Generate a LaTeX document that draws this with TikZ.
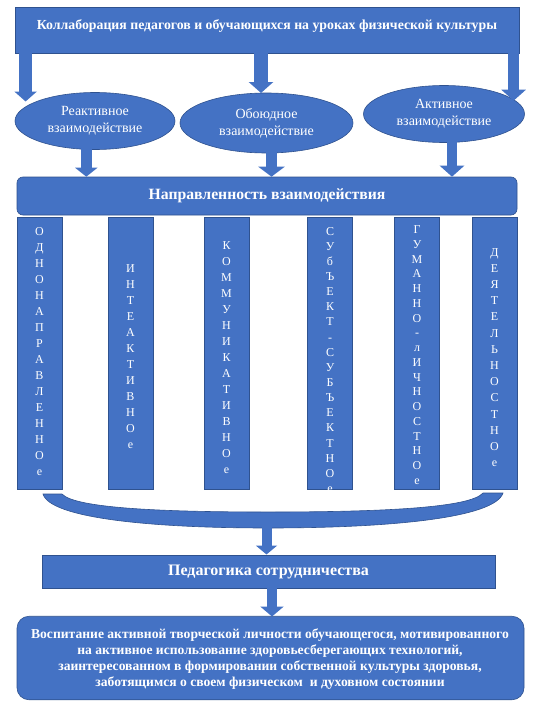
\documentclass[tikz,border=0pt]{standalone}
\usepackage{fontspec}
\setmainfont{Liberation Serif}
\usetikzlibrary{shapes.geometric,arrows.meta}
\definecolor{blu}{HTML}{4472C4}
\definecolor{edg}{HTML}{2F528F}
\begin{document}
\begin{tikzpicture}[x=1pt,y=-1pt,
 box/.style={fill=blu, draw=edg, line width=0.6pt, inner sep=0pt},
 txt/.style={text=white, font=\bfseries\fontsize{13.6}{15.9}\selectfont, align=center, inner sep=0pt},
 ell/.style={ellipse, fill=blu, draw=edg, line width=0.6pt, inner sep=0pt, text=white, align=center, font=\fontsize{14}{17}\selectfont},
 col/.style={box, minimum width=45pt, minimum height=272pt, anchor=north},
 letter/.style={text=white, font=\fontsize{12}{12}\selectfont, anchor=base, inner sep=0pt},
 barr/.style n args={3}{draw=blu, line width=#1, -{Triangle[width=#2,length=#3]}}
]
\useasboundingbox (0,0) rectangle (535,707);
\fill[white] (0,0) rectangle (535,707);

% top box
\node[box, minimum width=504pt, minimum height=45.5pt] (top) at (267,30.25) {};
\node[txt, font=\bfseries\fontsize{13.8}{16}\selectfont] (toptxt) at (267,25.6) {Коллаборация педагогов и обучающихся на уроках физической культуры};

% ellipses
\node[ell, minimum width=160pt, minimum height=57pt] (e1) at (95,121) {Реактивное\\взаимодействие};
\node[ell, minimum width=173pt, minimum height=60pt] (e2) at (266.5,123) {Обоюдное\\взаимодействие};
\node[ell, minimum width=161pt, minimum height=57pt] (e3) at (444,114) {Активное\\взаимодействие};

% direction box
\node[box, rounded corners=6pt, minimum width=500pt, minimum height=38pt, txt, font=\bfseries\fontsize{15.7}{17}\selectfont] (dir) at (267,196) {Направленность взаимодействия};

% columns
\node[col] (c1) at (39.5,217) {};
\node[col] (c2) at (130.5,217) {};
\node[col] (c3) at (226.5,217) {};
\node[col] (c4) at (330,217) {};
\node[col] (c5) at (417,216.5) {};
\node[col] (c6) at (494.5,216.5) {};

\foreach \ch [count=\i from 0] in {О,Д,Н,О,Н,А,П,Р,А,В,Л,Е,Н,Н,О,е}
  \node[letter] (la\i) at (39.5,{231+16*\i+4}) {\ch};
\foreach \ch [count=\i from 0] in {И,Н,Т,Е,А,К,Т,И,В,Н,О,е}
  \node[letter] (lb\i) at (130.5,{268+16*\i+4}) {\ch};
\foreach \ch [count=\i from 0] in {К,О,М,М,У,Н,И,К,А,Т,И,В,Н,О,е}
  \node[letter] (lc\i) at (226.5,{245+16*\i+4}) {\ch};
\begin{scope}
\clip (c4.south west) rectangle (c4.north east);
\foreach \ch [count=\i from 0] in {С,У,б,Ъ,Е,К,Т,-,С,У,Б,Ъ,Е,К,Т,Н,О,е}
  \node[letter] (ld\i) at (330,{231+15.15*\i+4}) {\ch};
\end{scope}
\foreach \ch [count=\i from 0] in {Г,У,М,А,Н,Н,О,-,л,И,Ч,Н,О,С,Т,Н,О,е}
  \node[letter] (le\i) at (417,{229.5+14.75*\i+4}) {\ch};
\foreach \ch [count=\i from 0] in {Д,Е,Я,Т,Е,Л,Ь,Н,О,С,Т,Н,О,е}
  \node[letter] (lf\i) at (494.5,{252+16.2*\i+4}) {\ch};

% crescent
\fill[blu, draw=edg, line width=0.6pt] (43,494) .. controls (50,518) and (150,528) .. (268,528)
  .. controls (390,528) and (495,518) .. (503,493) -- (483,493)
  .. controls (470,508) and (380,512) .. (268,512)
  .. controls (160,512) and (75,508) .. (62,494) -- cycle;
\coordinate (cres) at (266.5,526);

% cooperation box
\node[box, minimum width=453pt, minimum height=33pt, txt, font=\bfseries\fontsize{16}{18}\selectfont] (ped) at (268.5,571.5) {Педагогика сотрудничества};

% result box
\node[box, rounded corners=12pt, minimum width=507pt, minimum height=83.5pt] (res) at (270.5,658) {};
\node[txt] (restxt) at (270,659) {Воспитание активной творческой личности обучающегося, мотивированного\\на активное использование здоровьесберегающих технологий,\\заинтересованном в формировании собственной культуры здоровья,\\заботящимся о своем физическом\ \ и духовном состоянии};

% arrow end coordinates
\coordinate (a1e) at (25.6,101.5);
\coordinate (a2e) at (261,93);
\coordinate (a3e) at (513.6,100.7);
\coordinate (b1s) at (86.3,142);
\coordinate (b2s) at (271.5,143);
\coordinate (b3s) at (452,139);
\coordinate (ce) at (266.5,554.5);
\coordinate (de) at (272,616.5);

\draw[barr={13.6pt}{22pt}{10pt}] (top.south -| a1e) -- (a1e);
\draw[barr={14pt}{24pt}{11pt}] (top.south -| a2e) -- (a2e);
\draw[barr={10.3pt}{24pt}{11pt}] (top.south -| a3e) -- (a3e);
\draw[barr={10.7pt}{22pt}{9pt}] (b1s) -- (dir.north -| b1s);
\draw[barr={11pt}{26pt}{10pt}] (b2s) -- (dir.north -| b2s);
\draw[barr={10pt}{24pt}{11pt}] (b3s) -- (dir.north -| b3s);
\draw[barr={10pt}{21pt}{9pt}] (cres) -- (ce);
\draw[barr={10.3pt}{23pt}{10pt}] (ped.south -| de) -- (de);
\end{tikzpicture}
\end{document}
